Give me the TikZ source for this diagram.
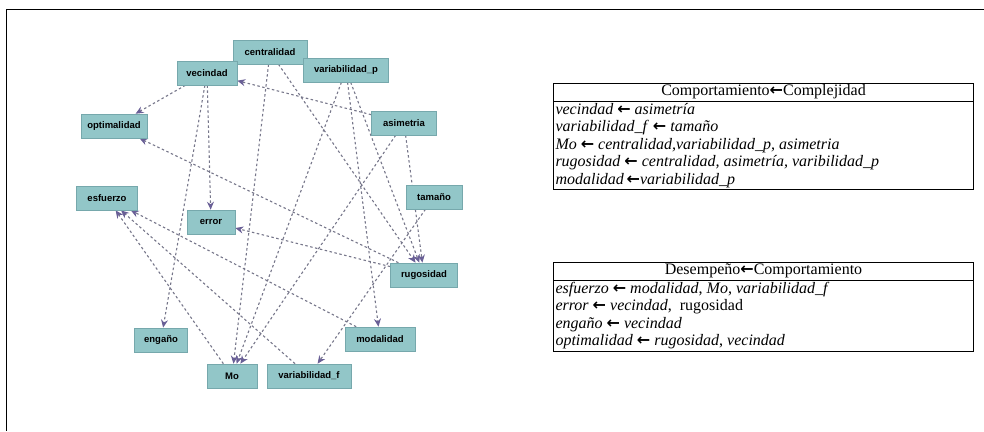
\documentclass[tikz,border=0pt]{standalone}
\usepackage{fontspec}
\setmainfont{Liberation Serif}
\setsansfont{Liberation Sans}
\newfontfamily\flechafont{DejaVu Sans}
\usetikzlibrary{arrows.meta,backgrounds}
\definecolor{cajafondo}{RGB}{146,198,200}
\definecolor{cajaborde}{RGB}{118,168,172}
\definecolor{lineagris}{RGB}{118,118,138}
\definecolor{puntamorada}{RGB}{105,95,150}
\newcommand{\fl}{{\flechafont\upshape\bfseries ←}}
\newcommand{\cj}[1]{\textit{#1}}
\setlength{\arrayrulewidth}{1pt}

\begin{document}
\begin{tikzpicture}[x=1pt,y=-1pt,
    var/.style={rectangle, fill=cajafondo, draw=cajaborde, line width=0.6pt,
      minimum height=24pt, inner sep=1pt,
      font=\fontsize{9.5}{10}\selectfont\sffamily\bfseries},
    rel/.style={draw=lineagris, line width=1.1pt, dash pattern=on 2.5pt off 2.5pt,
      -{Stealth[length=8pt,width=7pt,color=puntamorada]}},
    tabla/.style={draw, line width=1pt, inner sep=0pt, anchor=north west,
      font=\fontsize{16}{17.5}\selectfont}]
    \useasboundingbox (0,0) rectangle (984,431);
    \draw[line width=1pt] (984,9.5) -- (6.5,9.5) -- (6.5,431);
    % variables
    \node[var, minimum width=74pt] (cent) at (270,52)  {centralidad};
    \node[var, minimum width=60pt] (vec)  at (207,73)  {vecindad};
    \node[var, minimum width=85pt] (varp) at (346,70)  {variabilidad\_p};
    \node[var, minimum width=65pt] (asim) at (404,123) {asimetria};
    \node[var, minimum width=66pt] (opt)  at (114,126) {optimalidad};
    \node[var, minimum width=56pt] (tam)  at (434,197) {tamaño};
    \node[var, minimum width=61pt] (esf)  at (107,198) {esfuerzo};
    \node[var, minimum width=48pt] (err)  at (211,222) {error};
    \node[var, minimum width=67pt] (rug)  at (424,275) {rugosidad};
    \node[var, minimum width=70pt] (moda) at (380,339) {modalidad};
    \node[var, minimum width=53pt] (eng)  at (161,340) {engaño};
    \node[var, minimum width=50pt] (mo)   at (232,376) {Mo};
    \node[var, minimum width=84pt] (varf) at (309,376) {variabilidad\_f};
    % relaciones
    \begin{scope}[on background layer]
      \draw[rel] (asim) -- (vec);
      \draw[rel] (tam) -- (varf);
      \draw[rel] (cent) -- (mo);
      \draw[rel] (varp) -- (mo);
      \draw[rel] (asim) -- (mo);
      \draw[rel] (cent) -- (rug);
      \draw[rel] (asim) -- (rug);
      \draw[rel] (varp) -- (rug);
      \draw[rel] (varp) -- (moda);
      \draw[rel] (moda) -- (esf);
      \draw[rel] (mo) -- (esf);
      \draw[rel] (varf) -- (esf);
      \draw[rel] (vec) -- (err);
      \draw[rel] (rug) -- (err);
      \draw[rel] (vec) -- (eng);
      \draw[rel] (rug) -- (opt);
      \draw[rel] (vec) -- (opt);
    \end{scope}
    % tablas
    \node[tabla] (tcomp) at (553,83) {%
      \begin{tabular}{@{\hspace{2pt}}p{418pt}@{}}
        \multicolumn{1}{c}{Comportamiento\fl Complejidad}\\ \hline
        \cj{vecindad} \fl\ \cj{asimetría}\\
        \cj{variabilidad\_f} \fl\ \cj{tamaño}\\
        \cj{Mo} \fl\ \cj{centralidad,variabilidad\_p, asimetria}\\
        \cj{rugosidad} \fl\ \cj{centralidad, asimetría, varibilidad\_p}\\
        \cj{modalidad}\,\fl\cj{variabilidad\_p}
      \end{tabular}};
    \node[tabla] (tdes) at (553,262) {%
      \begin{tabular}{@{\hspace{2pt}}p{418pt}@{}}
        \multicolumn{1}{c}{Desempeño\fl Comportamiento}\\ \hline
        \cj{esfuerzo} \fl\ \cj{modalidad}, \cj{Mo}, \cj{variabilidad\_f}\\
        \cj{error} \fl\ \cj{vecindad},\ \ rugosidad\\
        \cj{engaño} \fl\ \cj{vecindad}\\
        \cj{optimalidad} \fl\ \cj{rugosidad}, \cj{vecindad}
      \end{tabular}};
\end{tikzpicture}
\end{document}
